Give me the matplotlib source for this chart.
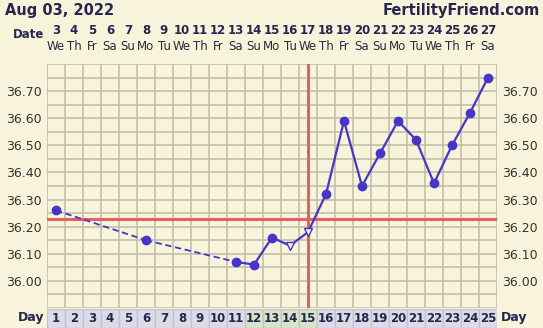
import matplotlib.pyplot as plt
from matplotlib.transforms import blended_transform_factory

# chart data
cycle_days = list(range(1, 26))
dates = list(range(3, 28))
weekdays = ["We", "Th", "Fr", "Sa", "Su", "Mo", "Tu"] * 4
weekdays = weekdays[:25]

temp_days = [1, 6, 11, 12, 13, 14, 15, 16, 17, 18, 19, 20, 21, 22, 23, 24, 25]
temps = [36.26, 36.15, 36.07, 36.06, 36.16, 36.13, 36.18, 36.32, 36.59,
         36.35, 36.47, 36.59, 36.52, 36.36, 36.50, 36.62, 36.75]
open_days = [14, 15]          # hollow markers
dashed_upto = 11              # gaps before this day are dashed
coverline = 36.23
ovulation_day = 15
green_days = [12, 13, 14, 15]

ytick_vals = [36.00, 36.10, 36.20, 36.30, 36.40, 36.50, 36.60, 36.70]

bg = "#f8f4dc"
grid_c = "#c4bea8"
line_c = "#4636c8"
red_c = "#e06262"
text_c = "#262650"

W, H = 543, 328
fig = plt.figure(figsize=(W / 100, H / 100), dpi=100, facecolor=bg)

x0, x1, ytop, ybot = 47, 497, 64, 308
ax = fig.add_axes([x0 / W, 1 - ybot / H, (x1 - x0) / W, (ybot - ytop) / H])
ax.set_facecolor(bg)
ax.set_xlim(0.5, 25.5)
ax.set_ylim(35.90, 36.80)

# grid
for k in range(26):
    ax.axvline(0.5 + k, color=grid_c, lw=1.2, zorder=1)
for k in range(19):
    ax.axhline(35.90 + 0.05 * k, color=grid_c, lw=1.2, zorder=1)
for s in ax.spines.values():
    s.set_visible(False)

# coverline and ovulation line
ax.axhline(coverline, color=red_c, lw=2.2, zorder=2)
ax.axvline(ovulation_day, color=red_c, lw=2.2, zorder=2)

# temperature line
for i in range(len(temp_days) - 1):
    a, b = temp_days[i], temp_days[i + 1]
    if b <= dashed_upto and b - a > 1:
        ax.plot([a, b], [temps[i], temps[i + 1]], color=line_c, lw=1.3,
                dashes=(3.5, 2), zorder=3)
    else:
        ax.plot([a, b], [temps[i], temps[i + 1]], color=line_c, lw=1.6,
                zorder=3)
for d, t in zip(temp_days, temps):
    if d in open_days:
        ax.plot(d, t, marker="v", ms=6, mfc=bg, mec=line_c, mew=1.0, zorder=4)
    else:
        ax.plot(d, t, marker="o", ms=6, color=line_c, zorder=4)

# y tick labels on both sides
ax.set_xticks([])
ax.set_yticks(ytick_vals)
ax.set_yticklabels([f"{v:.2f}" for v in ytick_vals])
ax.tick_params(axis="y", length=0, labelsize=9, labelcolor="#333333",
               pad=4, right=True, labelright=True)

# header
tr = blended_transform_factory(ax.transData, fig.transFigure)
fig.text(5 / W, 1 - 11 / H, "Aug 03, 2022", fontsize=10.5, fontweight="bold",
         color=text_c, va="center", ha="left")
fig.text(540 / W, 1 - 11 / H, "FertilityFriend.com", fontsize=10.5,
         fontweight="bold", color=text_c, va="center", ha="right")
fig.text(44 / W, 1 - 34 / H, "Date", fontsize=8.5, fontweight="bold",
         color=text_c, va="center", ha="right")
for d, dt, wd in zip(cycle_days, dates, weekdays):
    ax.text(d, 1 - 30 / H, str(dt), transform=tr, fontsize=8.5,
            fontweight="bold", color=text_c, ha="center", va="center")
    ax.text(d, 1 - 47 / H, wd, transform=tr, fontsize=8.5,
            color="#2a2a3a", ha="center", va="center")

# day row
axd = fig.add_axes([x0 / W, 0, (x1 - x0) / W, (H - ybot - 1) / H])
axd.set_xlim(0.5, 25.5)
axd.set_ylim(0, 1)
axd.axis("off")
cell_colors = ["#d6e4c8" if d in green_days else "#dcdce8" for d in cycle_days]
axd.bar(cycle_days, [1] * 25, width=1, bottom=0, color=cell_colors,
        edgecolor="#c4c2cc", lw=1)
for d in cycle_days:
    axd.text(d, 0.5, str(d), fontsize=8.5, fontweight="bold", color=text_c,
             ha="center", va="center")
fig.text(44 / W, 1 - 318 / H, "Day", fontsize=9, fontweight="bold",
         color=text_c, ha="right", va="center")
fig.text(501 / W, 1 - 318 / H, "Day", fontsize=9, fontweight="bold",
         color=text_c, ha="left", va="center")

fig.savefig("out.png", dpi=100, facecolor=bg)
